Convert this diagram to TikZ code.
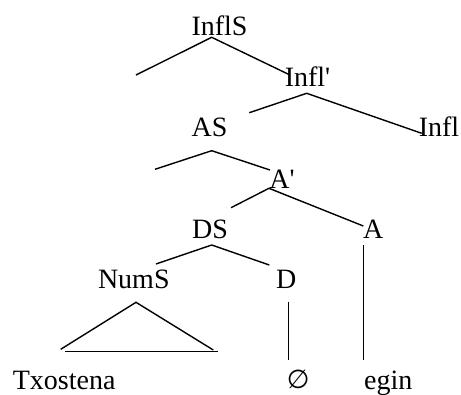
\documentclass[tikz,border=0pt]{standalone}
\usepackage{fontspec}
\setmainfont{Liberation Serif}[Ligatures=TeXOff]
\newfontfamily\symfont{DejaVu Sans}
\begin{document}
\begin{tikzpicture}[x=1pt,y=-1pt,
  lbl/.style={anchor=base,inner sep=0pt,font=\fontsize{28}{30}\selectfont},
  edge/.style={line width=1.4pt}]
\useasboundingbox (0,0) rectangle (461,394);
% labels
\node[lbl] (infls) at (219.5,35) {InflS};
\node[lbl] (inflbar) at (307.5,86) {Infl'};
\node[lbl] (as) at (209.5,136.7) {AS};
\node[lbl] (infl) at (439,136.7) {Infl};
\node[lbl] (abar) at (282,188.3) {A'};
\node[lbl] (ds) at (210,238.3) {DS};
\node[lbl] (a) at (373.3,238.3) {A};
\node[lbl] (nums) at (133.8,288.3) {NumS};
\node[lbl] (d) at (286.3,288.3) {D};
\node[lbl] (txostena) at (64.2,389) {Txostena};
\node[lbl] (empty) at (298.3,388) {\symfont\fontsize{26}{30}\selectfont ∅};
\node[lbl] (egin) at (388.3,389) {egin};
% line end points
\coordinate (p1) at (211.7,37.3);
\coordinate (p1l) at (136,75);
\coordinate (p1r) at (290,75);
\coordinate (p2) at (306.7,93.3);
\coordinate (p2l) at (249.3,112.7);
\coordinate (p2r) at (421.7,133.3);
\coordinate (p3) at (211.7,150.7);
\coordinate (p3l) at (155,169.3);
\coordinate (p3r) at (270,170);
\coordinate (p4) at (269,188.3);
\coordinate (p4l) at (231,207.7);
\coordinate (p4r) at (363.3,226);
\coordinate (p5) at (211.7,245);
\coordinate (p5l) at (156,264);
\coordinate (p5r) at (269.3,265);
\coordinate (t1) at (136,302.3);
\coordinate (t1l) at (60.7,349.3);
\coordinate (t1r) at (213.3,350);
\coordinate (b1) at (65,351.7);
\coordinate (b2) at (218.3,351.7);
\coordinate (v1t) at (288.3,301.7);
\coordinate (v1b) at (288.3,360);
\coordinate (v2t) at (363.3,245);
\coordinate (v2b) at (363.3,360);
% connectors
\draw[edge] (p1l) -- (p1) -- (p1r);
\draw[edge] (p2l) -- (p2) -- (p2r);
\draw[edge] (p3l) -- (p3) -- (p3r);
\draw[edge] (p4l) -- (p4) -- (p4r);
\draw[edge] (p5l) -- (p5) -- (p5r);
\draw[edge] (t1l) -- (t1) -- (t1r);
\draw[edge] (b1) -- (b2);
\draw[edge] (v1t) -- (v1b);
\draw[edge] (v2t) -- (v2b);
\end{tikzpicture}
\end{document}
